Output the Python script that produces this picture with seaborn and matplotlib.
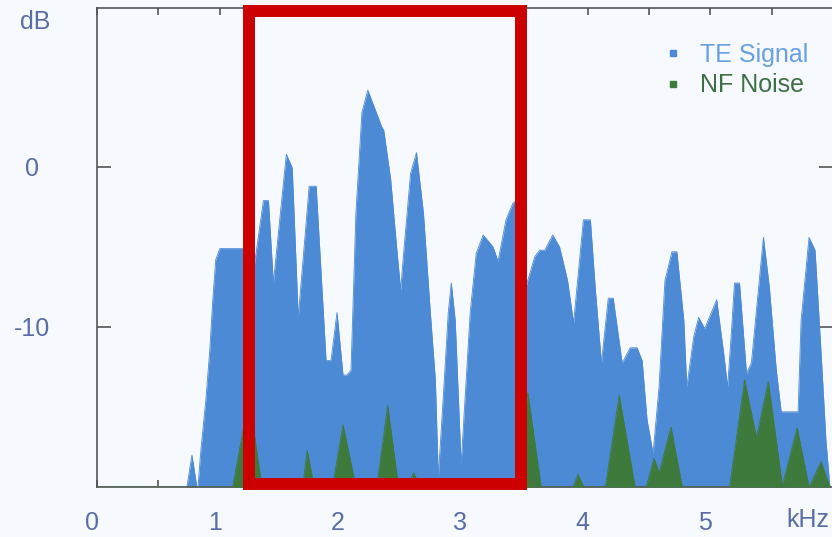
import numpy as np
import pandas as pd
import matplotlib
matplotlib.use("Agg")
import matplotlib.pyplot as plt
from matplotlib.patches import Rectangle
from matplotlib.lines import Line2D
from matplotlib.transforms import ScaledTranslation
import seaborn as sns

# ---- data (kHz, dB) ----
te_khz = [0.0, 0.733, 0.774, 0.814, 0.823, 0.847, 0.887, 0.920, 0.944, 0.968, 1.001, 1.187,
          1.260, 1.357, 1.398, 1.438, 1.544, 1.592, 1.641, 1.730, 1.787, 1.868, 1.908, 1.957,
          2.006, 2.038, 2.071, 2.111, 2.160, 2.208, 2.322, 2.338, 2.395, 2.443, 2.476, 2.500,
          2.557, 2.605, 2.662, 2.718, 2.759, 2.783, 2.832, 2.864, 2.889, 2.921, 2.969, 3.043,
          3.092, 3.149, 3.230, 3.270, 3.335, 3.392, 3.424, 3.489, 3.570, 3.610, 3.651, 3.716,
          3.772, 3.837, 3.886, 3.966, 4.023, 4.064, 4.113, 4.169, 4.209, 4.282, 4.348, 4.404,
          4.445, 4.485, 4.534, 4.583, 4.631, 4.688, 4.728, 4.785, 4.809, 4.866, 4.906, 4.955,
          5.053, 5.109, 5.142, 5.174, 5.198, 5.239, 5.296, 5.336, 5.434, 5.482, 5.539, 5.579,
          5.717, 5.741, 5.806, 5.855, 5.904, 5.944, 5.976]
te_db = [-20, -20, -18.0, -20, -20, -17.7, -14.6, -11.4, -8.3, -5.8, -5.1, -5.1,
         -7.4, -2.1, -2.1, -7.25, 0.8, -0.06, -9.4, -1.2, -1.2, -12.1, -12.1, -9.1,
         -13.0, -13.0, -12.7, -2.9, 3.4, 4.8, 2.5, 2.3, -0.8, -5.0, -7.7, -5.4,
         -0.4, 0.9, -2.9, -9.1, -13.3, -19.4, -13.3, -9.1, -7.25, -9.6, -18.6, -9.1,
         -5.4, -4.25, -5.0, -5.9, -3.3, -2.25, -2.1, -7.7, -5.6, -5.2, -5.2, -4.25,
         -5.0, -7.1, -9.75, -3.3, -3.3, -7.7, -12.25, -8.2, -8.2, -12.25, -11.3, -11.3,
         -12.1, -15.8, -17.9, -13.75, -7.1, -5.3, -5.3, -9.6, -13.75, -10.6, -9.4, -10.1,
         -8.3, -11.6, -13.75, -10.2, -7.25, -7.25, -12.9, -12.25, -4.4, -7.5, -12.7, -15.3,
         -15.3, -9.6, -4.4, -5.2, -11.6, -17.1, -20]

nf_khz = [0.0, 1.106, 1.240, 1.345, 1.677, 1.714, 1.771, 1.920, 2.006, 2.111, 2.281, 2.370,
          2.459, 2.532, 2.581, 2.638, 3.411, 3.513, 3.622, 3.881, 3.922, 3.970, 4.145, 4.258,
          4.388, 4.478, 4.542, 4.583, 4.680, 4.773, 5.158, 5.280, 5.377, 5.474, 5.588, 5.709,
          5.807, 5.904, 5.976]
nf_db = [-20, -20, -14.4, -20, -20, -17.7, -20, -20, -16.1, -20, -20, -14.9,
         -20, -20, -19.1, -20, -20, -14.1, -20, -20, -19.2, -20, -20, -14.25,
         -20, -20, -18.2, -19.1, -16.25, -20, -20, -13.3, -16.9, -13.4, -19.9, -16.3,
         -20, -18.4, -20]

x_ticks = [0, 1, 2, 3, 4, 5]
y_ticks = [0, -10]
series_names = ["TE Signal", "NF Noise"]

BLUE = "#4d8ad6"
GREEN = "#3f7a3d"
LABEL = "#5a6da6"
BG = "#f6f9fd"

sns.set_theme(style="ticks")
plt.rcParams["font.family"] = ["Liberation Sans", "DejaVu Sans"]

W, H = 832, 537
fig = plt.figure(figsize=(W / 100, H / 100), dpi=100, facecolor=BG)
ax = fig.add_axes([97 / W, 1 - 487 / H, (W - 97) / W + 0.001, (487 - 8) / H])
ax.set_facecolor(BG)

te = pd.DataFrame({"kHz": te_khz, "dB": te_db})
nf = pd.DataFrame({"kHz": nf_khz, "dB": nf_db})

ax.fill_between(te["kHz"], te["dB"], -20, color=BLUE, linewidth=0, zorder=2)
sns.lineplot(data=te, x="kHz", y="dB", ax=ax, color=BLUE, linewidth=0.6, sort=False,
             estimator=None, zorder=2)
ax.fill_between(nf["kHz"], nf["dB"], -20, color=GREEN, linewidth=0, zorder=3)
sns.lineplot(data=nf, x="kHz", y="dB", ax=ax, color=GREEN, linewidth=0.6, sort=False,
             estimator=None, zorder=3)

ax.set_xlim(0, (W - 96.5) / 123.4)
ax.set_ylim(-20, (167 - 8) / 16)

# ticks
minor = np.arange(0, 6.01, 0.5)
ax.set_xticks(minor)
ax.set_xticklabels([str(int(t)) if float(t).is_integer() and int(t) in x_ticks else "" for t in minor])
ax.set_yticks(y_ticks)
ax.set_yticklabels([str(t) for t in y_ticks])
ax.tick_params(axis="x", direction="in", length=5, width=1.2, color="#555555",
               top=True, bottom=True, pad=17, labelsize=18, labelcolor=LABEL)
ax.tick_params(axis="y", direction="in", length=10, width=1.2, color="#555555",
               left=True, right=True, pad=47, labelsize=18, labelcolor=LABEL)
for lab in ax.get_yticklabels():
    lab.set_horizontalalignment("center")
shift = ScaledTranslation(-5 / 100, 0, fig.dpi_scale_trans)
for lab in ax.get_xticklabels():
    lab.set_transform(lab.get_transform() + shift)
for s in ax.spines.values():
    s.set_color("#555555")
    s.set_linewidth(1.2)
ax.set_xlabel("")
ax.set_ylabel("")

fig.text(35 / W, 1 - 22 / H, "dB", ha="center", va="center", fontsize=18, color=LABEL)
fig.text(808 / W, 1 - 520 / H, "kHz", ha="center", va="center", fontsize=18, color=LABEL)

# legend
handles = [Line2D([], [], marker="s", linestyle="", color=BLUE, markersize=5),
           Line2D([], [], marker="s", linestyle="", color=GREEN, markersize=5)]
leg = ax.legend(handles, series_names, loc="upper left", frameon=False,
                bbox_to_anchor=(660 / W, 1 - 43 / H), bbox_transform=fig.transFigure,
                fontsize=18, handlelength=1.0, handletextpad=0.6, labelspacing=0.25,
                borderaxespad=0, borderpad=0)
for t, c in zip(leg.get_texts(), ["#6a9fe3", "#3e6f45"]):
    t.set_color(c)

# red highlight box
rect = Rectangle((248.5 / W, 1 - 483.5 / H), 272 / W, 472.5 / H, transform=fig.transFigure,
                 fill=False, edgecolor="#cc0000", linewidth=8.6, joinstyle="miter",
                 clip_on=False, zorder=10)
fig.patches.append(rect)

fig.savefig("out.png", dpi=100, facecolor=BG)
